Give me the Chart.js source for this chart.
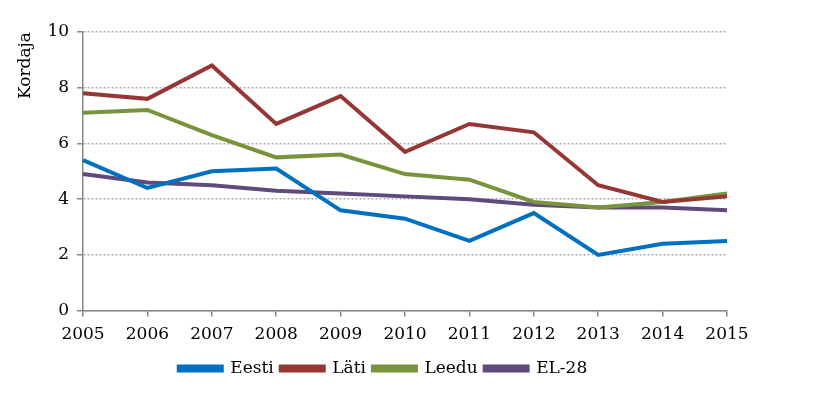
<!DOCTYPE html>
<html>
<head>
<meta charset="utf-8">
<script src="https://cdn.jsdelivr.net/npm/chart.js@4"></script>
<style>
  html, body { margin: 0; padding: 0; background: #fff; }
  #wrap { width: 840px; height: 394px; }
</style>
</head>
<body>
<div id="wrap"><canvas id="chart" width="840" height="394"></canvas></div>
<script>
const years = ["2005", "2006", "2007", "2008", "2009", "2010", "2011", "2012", "2013", "2014", "2015"];
const eesti = [5.4, 4.4, 5.0, 5.1, 3.6, 3.3, 2.5, 3.5, 2.0, 2.4, 2.5];
const lati = [7.8, 7.6, 8.8, 6.7, 7.7, 5.7, 6.7, 6.4, 4.5, 3.9, 4.1];
const leedu = [7.1, 7.2, 6.3, 5.5, 5.6, 4.9, 4.7, 3.9, 3.7, 3.9, 4.2];
const el28 = [4.9, 4.6, 4.5, 4.3, 4.2, 4.1, 4.0, 3.8, 3.7, 3.7, 3.6];

const FONT = "'DejaVu Serif', 'Liberation Serif', serif";

const line = (label, data, color) => ({
  label, data,
  borderColor: color,
  backgroundColor: color,
  borderWidth: 4,
  pointRadius: 0,
  tension: 0,
  borderCapStyle: "butt",
});

// legend in the original sits a bit right of the centre
const shiftLegend = {
  id: "shiftLegend",
  afterLayout(chart) {
    chart.legend.left += 14;
    chart.legend.right += 14;
  }
};

new Chart(document.getElementById("chart"), {
  type: "line",
  data: {
    labels: years,
    datasets: [
      line("Eesti", eesti, "#0070c0"),
      line("Läti", lati, "#953735"),
      line("Leedu", leedu, "#77933c"),
      line("EL-28", el28, "#604a7b"),
    ]
  },
  plugins: [shiftLegend],
  options: {
    responsive: false,
    animation: false,
    layout: { padding: { left: 11, right: 113, top: 32, bottom: 7 } },
    plugins: {
      legend: {
        position: "bottom",
        labels: {
          font: { family: FONT, size: 17 },
          color: "#000",
          boxWidth: 43,
          boxHeight: 4,
          padding: 7,
        }
      },
      tooltip: { enabled: false }
    },
    scales: {
      x: {
        offset: false,
        grid: { drawOnChartArea: false, color: "#888", tickLength: 6, lineWidth: 1.5 },
        border: { color: "#888", width: 1.5 },
        ticks: { font: { family: FONT, size: 17 }, color: "#000", maxRotation: 0, padding: 8 }
      },
      y: {
        min: 0, max: 10,
        grid: { color: "#aaa", tickBorderDash: [], tickLength: 6, lineWidth: 1.5, tickColor: "#888" },
        border: { color: "#888", width: 1.5, dash: [2, 2] },
        ticks: { stepSize: 2, font: { family: FONT, size: 17 }, color: "#000", padding: 8 },
        title: { display: true, text: "Kordaja", align: "end", font: { family: FONT, size: 17 }, color: "#000", padding: 4 }
      }
    }
  }
});
</script>
</body>
</html>
